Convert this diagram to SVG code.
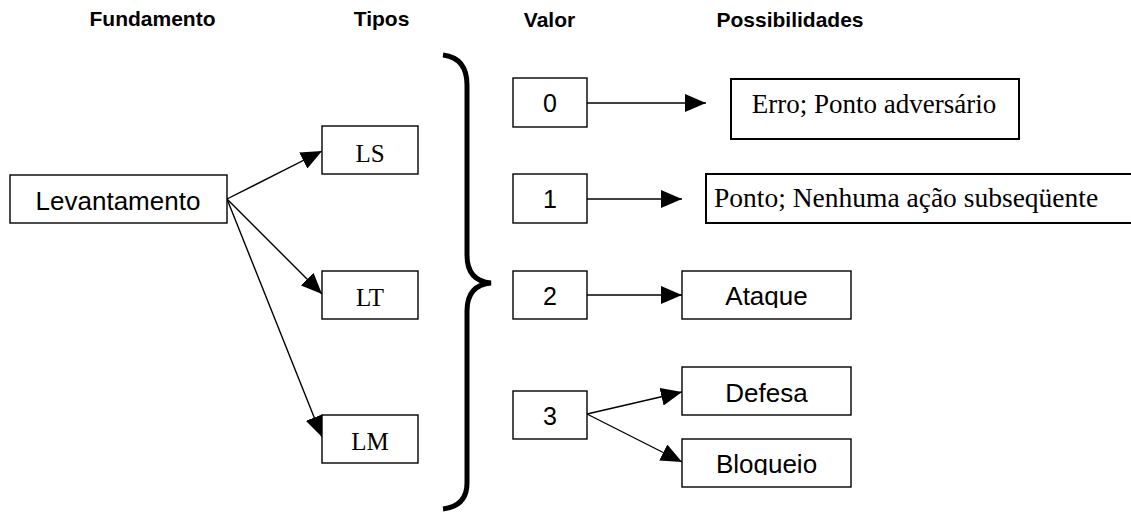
<svg xmlns="http://www.w3.org/2000/svg" width="1131" height="512" viewBox="0 0 1131 512">
  <style>
    .box { fill: #fff; stroke: #000; stroke-width: 1.4; }
    .boxb { fill: #fff; stroke: #000; stroke-width: 2; }
    .hdr { font-family: "Liberation Sans", Arial, sans-serif; font-weight: bold; font-size: 21px; text-anchor: middle; fill: #000; }
    .sans { font-family: "Liberation Sans", Arial, sans-serif; font-size: 25px; text-anchor: middle; fill: #000; }
    .serif { font-family: "Liberation Serif", "Times New Roman", serif; font-size: 25px; text-anchor: middle; fill: #000; }
    .conn line { stroke: #000; stroke-width: 1.4; marker-end: url(#arr); }
  </style>
  <defs>
    <marker id="arr" markerUnits="userSpaceOnUse" markerWidth="22" markerHeight="18" refX="21" refY="9" orient="auto">
      <path d="M0,0 L21,9 L0,18 Z" fill="#000"/>
    </marker>
    <clipPath id="clipAtaque"><rect x="682" y="271" width="169" height="37"/></clipPath>
    <clipPath id="clipBloqueio"><rect x="682" y="439" width="169" height="36"/></clipPath>
  </defs>
  <rect width="1131" height="512" fill="#fff"/>

  <g id="headers">
    <text class="hdr" x="152.5" y="26">Fundamento</text>
    <text class="hdr" x="381.5" y="26">Tipos</text>
    <text class="hdr" x="549.5" y="27">Valor</text>
    <text class="hdr" x="790" y="27">Possibilidades</text>
  </g>

  <g id="connectors" class="conn">
    <line x1="227" y1="199" x2="322" y2="151"/>
    <line x1="227" y1="199" x2="322" y2="294"/>
    <line x1="227" y1="199" x2="322" y2="437"/>
    <line x1="587" y1="103" x2="706" y2="103"/>
    <line x1="587" y1="199" x2="682" y2="199"/>
    <line x1="587" y1="295" x2="682" y2="295"/>
    <line x1="587" y1="414" x2="682" y2="392"/>
    <line x1="587" y1="414" x2="682" y2="462"/>
  </g>

  <g id="brace">
    <path d="M443,55 Q467,58 467,85 L467,255 Q467,281 491,283 Q467,285 467,311 L467,483 Q467,506 443,509" fill="none" stroke="#000" stroke-width="5" stroke-linejoin="miter"/>
  </g>

  <g id="levantamento">
    <rect class="box" x="10" y="175" width="217" height="48"/>
    <text class="sans" x="118" y="210" style="font-size:26px">Levantamento</text>
  </g>
  <g id="ls">
    <rect class="box" x="322" y="126" width="96" height="48"/>
    <text class="serif" x="370" y="162">LS</text>
  </g>
  <g id="lt">
    <rect class="box" x="322" y="271" width="96" height="48"/>
    <text class="serif" x="370" y="306">LT</text>
  </g>
  <g id="lm">
    <rect class="box" x="322" y="415" width="96" height="48"/>
    <text class="serif" x="370" y="450">LM</text>
  </g>

  <g id="v0">
    <rect class="box" x="513" y="78" width="74" height="49"/>
    <text class="sans" x="550" y="112">0</text>
  </g>
  <g id="v1">
    <rect class="box" x="513" y="174" width="74" height="49"/>
    <text class="sans" x="550" y="208">1</text>
  </g>
  <g id="v2">
    <rect class="box" x="513" y="271" width="74" height="48"/>
    <text class="sans" x="550" y="305">2</text>
  </g>
  <g id="v3">
    <rect class="box" x="513" y="391" width="74" height="48"/>
    <text class="sans" x="550" y="425">3</text>
  </g>

  <g id="erro">
    <rect class="boxb" x="731" y="79" width="288" height="60"/>
    <text class="serif" x="874" y="113" style="font-size:27px">Erro; Ponto adversário</text>
  </g>
  <g id="ponto">
    <rect class="boxb" x="706" y="174" width="440" height="49"/>
    <text class="serif" x="714" y="207" style="font-size:27.5px;text-anchor:start">Ponto; Nenhuma ação subseqüente</text>
  </g>
  <g id="ataque">
    <rect class="box" x="682" y="271" width="169" height="48"/>
    <text class="sans" x="766.5" y="305" style="font-size:26px" clip-path="url(#clipAtaque)">Ataque</text>
  </g>
  <g id="defesa">
    <rect class="box" x="682" y="367" width="169" height="48"/>
    <text class="sans" x="766.5" y="402" style="font-size:26px">Defesa</text>
  </g>
  <g id="bloqueio">
    <rect class="box" x="682" y="439" width="169" height="48"/>
    <text class="sans" x="766.5" y="473" style="font-size:26px" clip-path="url(#clipBloqueio)">Bloqueio</text>
  </g>
</svg>
